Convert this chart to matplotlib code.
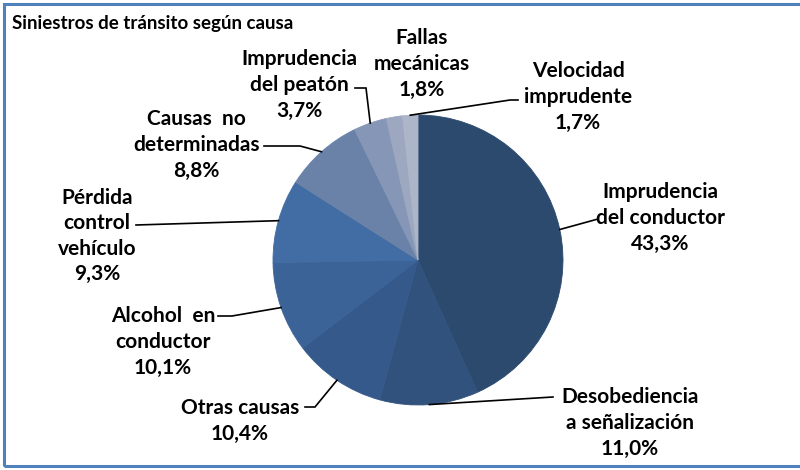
import matplotlib
matplotlib.use("Agg")
import matplotlib.pyplot as plt
import matplotlib.patches as patches
import numpy as np

plt.rcParams['font.family'] = ['Lato', 'DejaVu Sans']

W, H = 800, 470

causes = ["Imprudencia\ndel conductor", "Desobediencia\na señalización", "Otras causas",
          "Alcohol  en\nconductor", "Pérdida\ncontrol\nvehículo", "Causas  no\ndeterminadas",
          "Imprudencia\ndel peatón", "Fallas\nmecánicas", "Velocidad\nimprudente"]
shares = [43.3, 11.0, 10.4, 10.1, 9.3, 8.8, 3.7, 1.8, 1.7]
colors = ["#2C4A6E", "#30527D", "#35598A", "#3B6397", "#426DA4",
          "#6A82A8", "#8596B6", "#9DA8C0", "#ADB5C8"]

# label block centres and leader paths, in pixels from the top-left
label_pos = [(660, 218), (630, 423), (240, 421), (163, 342), (97, 236),
             (196, 145), (299, 85), (422, 64), (578, 97)]
leader_pts = [[(598, 219)], [(553, 397)], [(315, 407), (305, 407)],
              [(232, 316), (218, 316)], [(136, 225)], [(300, 146), (264, 146)],
              [(366, 88), (355, 88)], None, [(510, 100), (518, 100)]]

CX, CY, R = 418, 260, 145


def flip(p):
    return (p[0], H - p[1])


fig = plt.figure(figsize=(8, 4.7), dpi=100)
ax = fig.add_axes([0, 0, 1, 1])

wedges, _ = ax.pie(shares, colors=colors, startangle=90, counterclock=False,
                   center=flip((CX, CY)), radius=R, frame=True,
                   wedgeprops=dict(linewidth=0.6))
for w, c in zip(wedges, colors):
    w.set_edgecolor(c)
ax.set_xlim(0, W)
ax.set_ylim(0, H)
ax.axis('off')

for i, w in enumerate(wedges):
    mid = np.deg2rad((w.theta1 + w.theta2) / 2)
    start = (w.center[0] + R * np.cos(mid), w.center[1] + R * np.sin(mid))
    pct = f"{shares[i]:.1f}".replace(".", ",") + "%"
    ax.text(*flip(label_pos[i]), causes[i] + "\n" + pct, ha='center', va='center',
            fontsize=15, fontweight='bold', linespacing=1.35, color='black')
    if leader_pts[i] is not None:
        pts = [start] + [flip(p) for p in leader_pts[i]]
        xs, ys = zip(*pts)
        ax.plot(xs, ys, color='black', lw=1.2, solid_joinstyle='miter')

ax.text(12, H - 23, "Siniestros de tránsito según causa", ha='left', va='center',
        fontsize=13.5, fontweight='bold', color='black')

# chart frame (cut off on the right like the source image)
fig.add_artist(patches.Rectangle((4 / W, 4 / H), 1.0, (H - 8) / H, transform=fig.transFigure,
                                 fill=False, edgecolor='#4F81BD', linewidth=2.2))

fig.savefig("out.png", dpi=100)
